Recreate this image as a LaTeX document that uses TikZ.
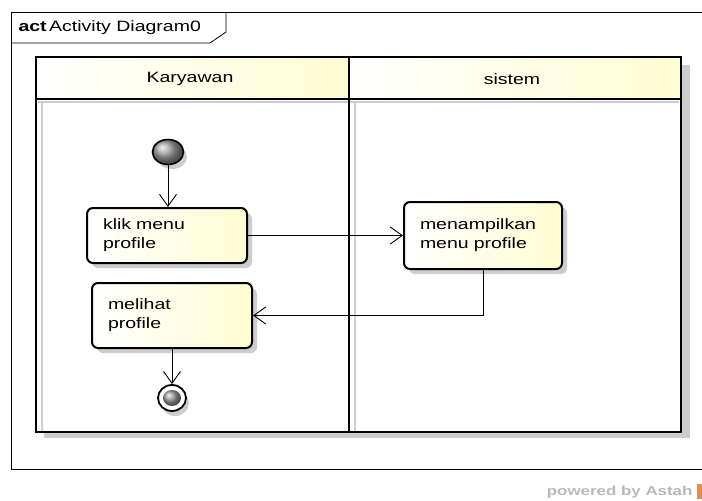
\documentclass[tikz,border=0pt]{standalone}
\usepackage{fontspec}
\setmainfont[FakeStretch=1.3]{Liberation Sans}
\usetikzlibrary{arrows.meta,shapes.geometric}
\definecolor{paleyellow}{RGB}{255,252,210}
\definecolor{shadowgray}{RGB}{205,205,205}
\definecolor{astahorange}{RGB}{235,140,70}
\begin{document}
\begin{tikzpicture}[x=1pt,y=-1pt,
  lane/.style={line width=2.6pt,draw=black},
  action/.style={rectangle,rounded corners=6pt,draw=black,line width=2pt,
    left color=white,right color=paleyellow,
    inner xsep=16pt,inner ysep=4pt,align=left,
    font=\fontsize{15}{19}\selectfont},
  flow/.style={line width=0.9pt,-{Straight Barb[length=12pt,width=17pt,line width=0.9pt]}},
  lanetitle/.style={font=\fontsize{15}{17}\selectfont}]
\useasboundingbox (0,0) rectangle (702,501);
\fill[white] (0,0) rectangle (702,501);

% diagram frame with its name tab
\draw[line width=0.8pt] (11,469) -- (11,12) -- (702,12);
\draw[line width=0.8pt] (11,469) -- (702,469);
\draw[line width=0.8pt] (11,43) -- (210,43) -- (226,32) -- (226,12);
\node[anchor=west,font=\fontsize{15}{17}\selectfont] (frametitle) at (15,28)
  {\textbf{act}\,Activity Diagram0};

% swimlane shadows
\fill[shadowgray] (44,65) rectangle (690,438);
\fill[white] (36,57) rectangle (681,432);
\draw[shadowgray,line width=2pt] (42,101) -- (42,432);
\draw[shadowgray,line width=2pt] (355,101) -- (355,432);
\draw[shadowgray,line width=2pt] (38,102) -- (679,102);

% swimlane headers
\shade[left color=white,right color=paleyellow] (36,57) rectangle (349,99);
\shade[left color=white,right color=paleyellow] (349,57) rectangle (681,99);
\node[lanetitle] (laneA) at (190,79) {Karyawan};
\node[lanetitle] (laneB) at (512,79) {sistem};

% swimlane borders
\draw[lane] (36,57) rectangle (349,432);
\draw[lane] (349,57) rectangle (681,432);
\draw[lane] (36,99) -- (681,99);

% shadows of the activity nodes
\begin{scope}[fill=shadowgray]
  \fill[rounded corners=6pt] (92,213) rectangle (252,268);
  \fill[rounded corners=6pt] (409,207) rectangle (567,274);
  \fill[rounded corners=6pt] (97,288) rectangle (257,353);
  \fill (172,157) ellipse [x radius=15pt,y radius=12pt];
  \fill (175,403) ellipse [x radius=14pt,y radius=13pt];
\end{scope}

% initial node
\node[ellipse,draw=black,line width=1.6pt,minimum width=31pt,minimum height=25pt,
  inner sep=0pt,ball color=gray!75] (init) at (168,152) {};

% actions
\node[action,text width=128pt,minimum height=55pt] (klik) at (167,235.5)
  {klik menu\\profile};
\node[action,text width=126pt,minimum height=67pt] (tampil) at (483,235.5)
  {menampilkan\\menu profile};
\node[action,text width=128pt,minimum height=65pt] (lihat) at (172,315.5)
  {melihat\\profile};

% final node
\node[ellipse,draw=black,line width=1.8pt,fill=white,minimum width=28pt,
  minimum height=26pt,inner sep=0pt] (final) at (172,398) {};
\node[ellipse,draw=none,minimum width=18pt,minimum height=16pt,inner sep=0pt,
  ball color=gray!75] (finalcore) at (172,398) {};

% control flows
\draw[flow] (init.south) -- (init.south |- klik.north);
\draw[flow] (klik.east) -- (tampil.west);
\draw[flow] (tampil.south) |- (lihat.east);
\draw[flow] (lihat.south) -- (final.north);

% tool mark
\node[anchor=east,text=gray!55,font=\fontsize{13}{15}\selectfont\bfseries]
  (powered) at (696,492) {powered by Astah};
\fill[astahorange] (697,484) rectangle (702,499);
\end{tikzpicture}
\end{document}
